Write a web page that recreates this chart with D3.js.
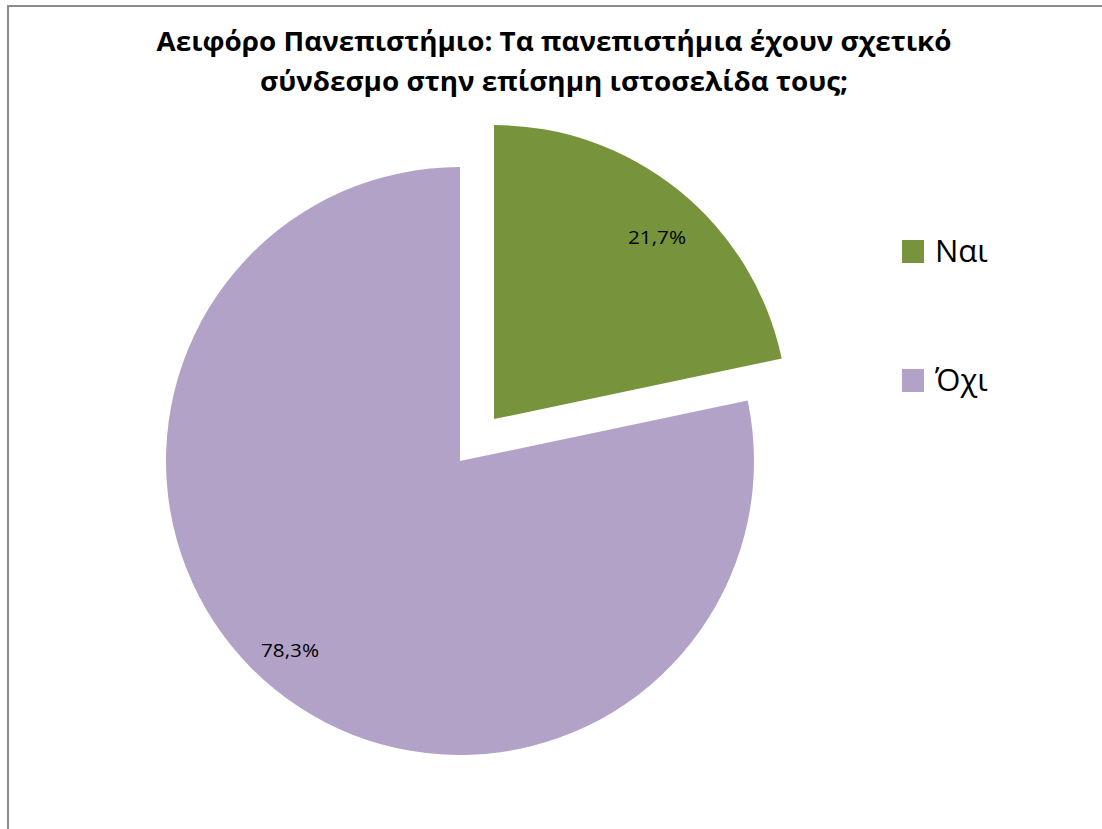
<!DOCTYPE html>
<html>
<head>
<meta charset="utf-8">
<script src="https://cdn.jsdelivr.net/npm/d3@7"></script>
<style>
  html, body { margin: 0; padding: 0; background: #fff; }
  svg { display: block; }
</style>
</head>
<body>
<svg id="chart" width="1102" height="829"></svg>
<script>
const categories = ["Ναι", "Όχι"];
const values = [21.7, 78.3];
const valueLabels = ["21,7%", "78,3%"];
const colors = ["#77933C", "#B3A2C7"];
const titleLines = ["Αειφόρο Πανεπιστήμιο: Τα πανεπιστήμια έχουν σχετικό", "σύνδεσμο στην επίσημη ιστοσελίδα τους;"];

const svg = d3.select("#chart");

// frame
svg.append("rect").attr("x", 8).attr("y", 6).attr("width", 1200).attr("height", 1000)
  .attr("fill", "#fff").attr("stroke", "#8c8c8c").attr("stroke-width", 2);

// title
const titleY = [51, 91];
const titleW = [795, 588];
titleLines.forEach((t, i) => {
  svg.append("text")
    .attr("x", 554).attr("y", titleY[i])
    .attr("text-anchor", "middle")
    .attr("font-family", "'Open Sans', 'Noto Sans', sans-serif")
    .attr("font-weight", "bold")
    .attr("font-size", 27)
    .attr("textLength", titleW[i])
    .attr("lengthAdjust", "spacingAndGlyphs")
    .attr("fill", "#000")
    .text(t);
});

// pie
const cx = 460, cy = 461, r = 294, explode = 54;
const pie = d3.pie().sort(null).value(d => d)(values);
const arc = d3.arc().innerRadius(0).outerRadius(r);
const g = svg.append("g").attr("transform", `translate(${cx},${cy})`);

pie.forEach((p, i) => {
  const mid = (p.startAngle + p.endAngle) / 2;
  const off = i === 0 ? explode : 0;
  const dx = Math.sin(mid) * off, dy = -Math.cos(mid) * off;
  g.append("path")
    .attr("d", arc(p))
    .attr("transform", `translate(${dx},${dy})`)
    .attr("fill", colors[i]);
});

// value labels
const labelPos = [[657, 244], [290, 657]];
valueLabels.forEach((t, i) => {
  svg.append("text")
    .attr("x", labelPos[i][0]).attr("y", labelPos[i][1])
    .attr("text-anchor", "middle")
    .attr("font-family", "'Open Sans', 'Noto Sans', sans-serif")
    .attr("font-size", 19)
    .attr("textLength", 58)
    .attr("lengthAdjust", "spacingAndGlyphs")
    .attr("fill", "#000")
    .text(t);
});

// legend
const legY = [240, 369];
categories.forEach((c, i) => {
  svg.append("rect").attr("x", 902).attr("y", legY[i]).attr("width", 22).attr("height", 23)
    .attr("fill", colors[i]);
  svg.append("text")
    .attr("x", 935).attr("y", legY[i] + 22)
    .attr("font-family", "'Open Sans', 'Noto Sans', sans-serif")
    .attr("font-size", 31)
    .attr("fill", "#000")
    .text(c);
});
</script>
</body>
</html>
